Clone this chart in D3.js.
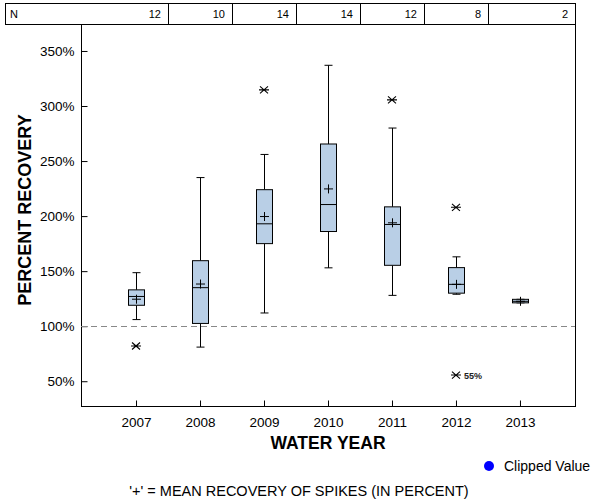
<!DOCTYPE html>
<html>
<head>
<meta charset="utf-8">
<script src="https://cdn.jsdelivr.net/npm/d3@7"></script>
<style>
html,body{margin:0;padding:0;background:#fff;}
svg{display:block;font-family:"Liberation Sans",Arial,sans-serif;}
</style>
</head>
<body>
<svg id="chart" width="600" height="500"></svg>
<script>
// ---- data ----
const years = ['2007','2008','2009','2010','2011','2012','2013'];
const nCounts = [12, 10, 14, 14, 12, 8, 2];
const whiskerLow  = [106, 81, 112, 153, 128, 129, 121.2];
const q1          = [119, 102.5, 175, 186, 155.3, 130, 121.2];
const medians     = [127, 135, 193, 210.5, 192.4, 138, 122.6];
const q3          = [133, 159.5, 224, 265.5, 208.4, 153.2, 124.4];
const whiskerHigh = [148.6, 235, 256, 337, 280, 163, 124.4];
const means       = [124.5, 138.3, 199.6, 224.7, 193.9, 138, 122.6];
const outlierYears  = ['2007','2009','2011','2012','2012'];
const outlierValues = [82, 314.7, 305.6, 208, 55.6];
const outlierLabels = ['', '', '', '', '55%'];
const yTicks = [50, 100, 150, 200, 250, 300, 350];
const referenceValue = 100;

(function () {
// ---- layout ----
const svg = d3.select('#chart');
const pLeft = 81, pRight = 575, pTop = 24, pBottom = 406;

const x = d3.scalePoint().domain(years).range([pLeft, pRight]).padding(0.86);
const y = d3.scaleLinear().domain([27.5, 374.5]).range([pBottom, pTop]);

const boxFill = '#b9cfe6';
const boxHalf = 8, capHalf = 4;

// N table
const tableTop = 3, tableBot = pTop;
const step = x.step();
const bounds = [5].concat(years.slice(0, -1).map(d => x(d) + step / 2)).concat([pRight]);
const tbl = svg.append('g');
tbl.append('rect').attr('x', 5.5).attr('y', tableTop + 0.5)
  .attr('width', pRight - 5).attr('height', tableBot - tableTop)
  .attr('fill', 'none').attr('stroke', '#000');
bounds.slice(1, -1).forEach(b => {
  tbl.append('line').attr('x1', Math.round(b) + 0.5).attr('x2', Math.round(b) + 0.5)
    .attr('y1', tableTop).attr('y2', tableBot).attr('stroke', '#000');
});
tbl.append('text').attr('x', 10).attr('y', 18).attr('font-size', 11).text('N');
nCounts.forEach((n, i) => {
  tbl.append('text').attr('x', Math.round(bounds[i + 1]) - 7).attr('y', 18)
    .attr('text-anchor', 'end').attr('font-size', 11).text(n);
});

// plot frame
svg.append('rect').attr('x', pLeft + 0.5).attr('y', pTop + 0.5)
  .attr('width', pRight - pLeft).attr('height', pBottom - pTop)
  .attr('fill', 'none').attr('stroke', '#000');

// y axis
const yAxis = d3.axisLeft(y).tickValues(yTicks).tickSize(-6).tickPadding(7)
  .tickFormat(d => d + '%');
const gy = svg.append('g').attr('transform', `translate(${pLeft + 0.5},0)`).call(yAxis);
gy.select('.domain').remove();
gy.selectAll('text').attr('font-size', 13.5).attr('font-family', '"Liberation Sans",Arial,sans-serif').attr('fill', '#000');

// x axis
const xAxis = d3.axisBottom(x).tickSize(-6).tickPadding(11);
const gx = svg.append('g').attr('transform', `translate(0,${pBottom + 0.5})`).call(xAxis);
gx.select('.domain').remove();
gx.selectAll('text').attr('font-size', 13.5).attr('font-family', '"Liberation Sans",Arial,sans-serif').attr('fill', '#000');

// reference line
svg.append('line').attr('x1', pLeft).attr('x2', pRight)
  .attr('y1', Math.round(y(referenceValue)) + 0.5).attr('y2', Math.round(y(referenceValue)) + 0.5)
  .attr('stroke', '#888').attr('stroke-dasharray', '6,4');

// boxes
const g = svg.append('g');
years.forEach((yr, i) => {
  const cx = Math.round(x(yr)) + 0.5;
  g.append('line').attr('x1', cx).attr('x2', cx).attr('y1', y(whiskerHigh[i])).attr('y2', y(q3[i])).attr('stroke', '#000');
  g.append('line').attr('x1', cx).attr('x2', cx).attr('y1', y(q1[i])).attr('y2', y(whiskerLow[i])).attr('stroke', '#000');
  g.append('line').attr('x1', cx - capHalf).attr('x2', cx + capHalf).attr('y1', y(whiskerHigh[i])).attr('y2', y(whiskerHigh[i])).attr('stroke', '#000');
  g.append('line').attr('x1', cx - capHalf).attr('x2', cx + capHalf).attr('y1', y(whiskerLow[i])).attr('y2', y(whiskerLow[i])).attr('stroke', '#000');
  g.append('rect').attr('x', cx - boxHalf).attr('y', y(q3[i]))
    .attr('width', boxHalf * 2).attr('height', Math.max(1, y(q1[i]) - y(q3[i])))
    .attr('fill', boxFill).attr('stroke', '#000');
  g.append('line').attr('x1', cx - boxHalf).attr('x2', cx + boxHalf).attr('y1', y(medians[i])).attr('y2', y(medians[i])).attr('stroke', '#000');
  const my = y(means[i]);
  g.append('path').attr('d', `M${cx - 4.5},${my}H${cx + 4.5}M${cx},${my - 4.5}V${my + 4.5}`).attr('stroke', '#000').attr('fill', 'none');
});

// outliers (star)
outlierYears.forEach((yr, i) => {
  const cx = x(yr), cy = y(outlierValues[i]);
  g.append('path')
    .attr('d', `M${cx - 5},${cy}H${cx + 5}M${cx - 4},${cy - 3.5}L${cx + 4},${cy + 3.5}M${cx - 4},${cy + 3.5}L${cx + 4},${cy - 3.5}`)
    .attr('stroke', '#000').attr('stroke-width', 1.1).attr('fill', 'none');
  if (outlierLabels[i]) {
    g.append('text').attr('x', cx + 8).attr('y', cy + 4).attr('font-size', 9)
      .attr('font-weight', 'bold').attr('fill', '#222').text(outlierLabels[i]);
  }
});

// axis titles
svg.append('text').attr('x', (pLeft + pRight) / 2).attr('y', 449).attr('text-anchor', 'middle')
  .attr('font-size', 17.5).attr('font-weight', 'bold').text('WATER YEAR');
svg.append('text').attr('transform', `translate(31,${(pTop + pBottom) / 2 - 5}) rotate(-90)`)
  .attr('text-anchor', 'middle').attr('font-size', 18).attr('font-weight', 'bold').text('PERCENT RECOVERY');

// legend
svg.append('circle').attr('cx', 489).attr('cy', 466).attr('r', 5).attr('fill', '#0000ff');
svg.append('text').attr('x', 504).attr('y', 471).attr('font-size', 14).text('Clipped Value');

// footnote
svg.append('text').attr('x', 299).attr('y', 496).attr('text-anchor', 'middle')
  .attr('font-size', 14.5).text("'+' = MEAN RECOVERY OF SPIKES (IN PERCENT)");
})();
</script>
</body>
</html>
